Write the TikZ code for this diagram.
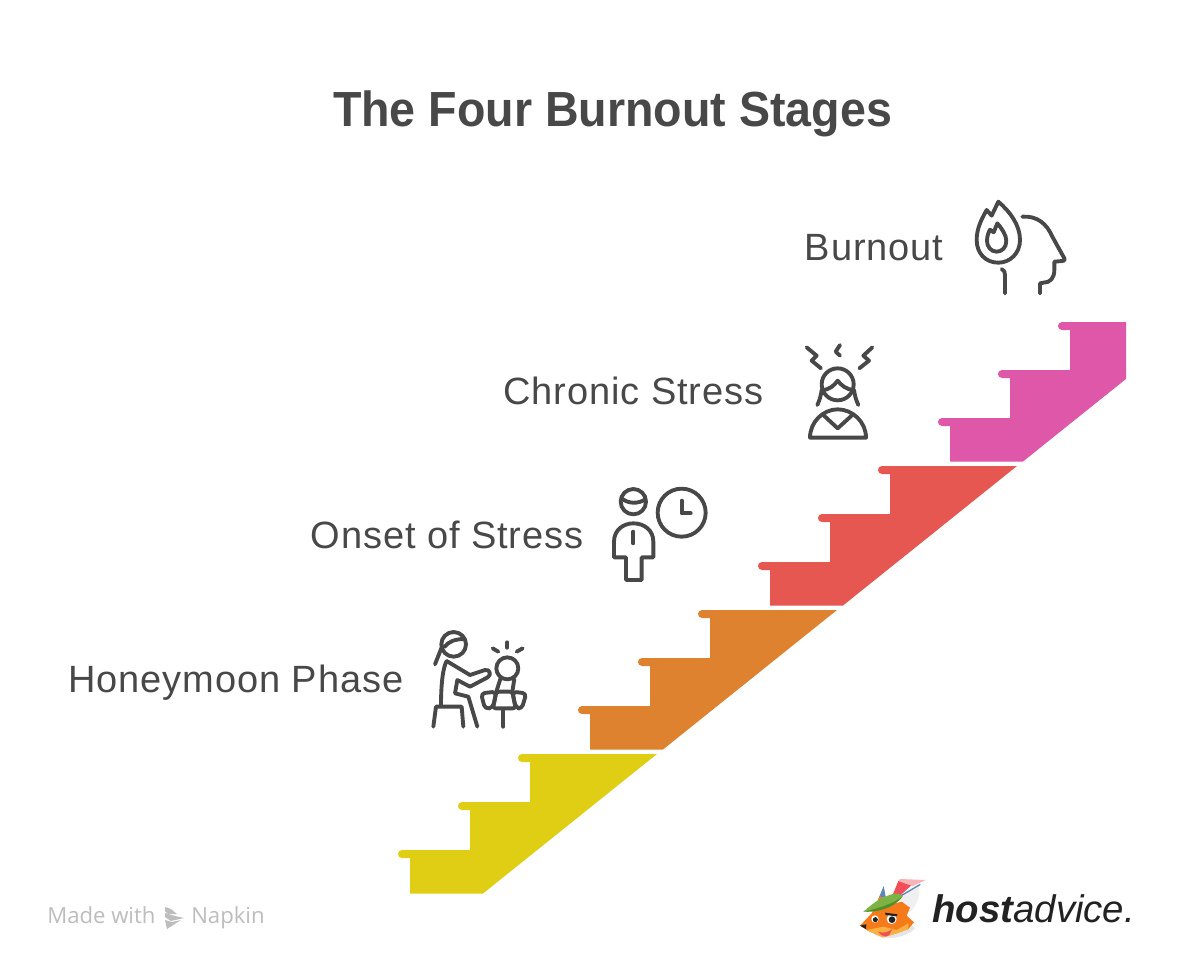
\documentclass[tikz,border=0pt]{standalone}
\usepackage{fontspec}
\setmainfont{Liberation Sans}
\newfontfamily\madefont{Open Sans}
\definecolor{ink}{HTML}{484848}
\definecolor{stairA}{HTML}{E0CE15}
\definecolor{stairB}{HTML}{DE8230}
\definecolor{stairC}{HTML}{E55750}
\definecolor{stairD}{HTML}{DE57A8}
\definecolor{madegray}{HTML}{BDBDBD}
\definecolor{foxorange}{HTML}{F47A1A}
\definecolor{foxlight}{HTML}{FBB040}
\definecolor{leafgreen}{HTML}{7CB342}
\definecolor{leafdark}{HTML}{4E8F2E}
\definecolor{featherred}{HTML}{EE4F58}
\definecolor{featherpink}{HTML}{F7B3B8}
\definecolor{featherblue}{HTML}{5C86B8}
\definecolor{logoink}{HTML}{222222}
\newcommand{\stairpath}{(410,893.5) -- (410,858) -- (402,858) .. controls (396.7,858) and (396.7,850) .. (402,850)
  -- (470,850) -- (470,810) -- (462,810) .. controls (456.7,810) and (456.7,802) .. (462,802)
  -- (530,802) -- (530,762) -- (522,762) .. controls (516.7,762) and (516.7,754) .. (522,754)
  -- (657,754) -- (483,893.5) -- cycle}
\tikzset{
  labeltext/.style={anchor=base east,text=ink,font=\fontsize{28.5}{32}\selectfont\addfontfeature{LetterSpace=2.3},inner sep=0pt},
  icon/.style={draw=ink,line width=2.9pt,line cap=round,line join=round,fill=none},
  iconbox/.style={scale=1/3,every path/.style={icon}},
}
\begin{document}
\begin{tikzpicture}[x=0.75pt,y=-0.75pt]
\useasboundingbox (0,0) rectangle (1186,972);
\fill[white] (0,0) rectangle (1186,972);
\node[anchor=base,text=ink,inner sep=0pt,font=\fontsize{37}{42}\selectfont\bfseries] (title) at (612.5,126) {\scalebox{0.944}[1]{The Four Burnout Stages}};
% stairs
\fill[stairA] \stairpath;
\fill[stairB,shift={(180,-144)}] \stairpath;
\fill[stairC,shift={(360,-288)}] \stairpath;
\begin{scope}
\clip (0,0) rectangle (1126,972);
\fill[stairD,shift={(540,-432)}] \stairpath;
\end{scope}
% labels
\node[labeltext] (burnout) at (943.5,260.5) {Burnout};
\node[labeltext] (chronic) at (763.5,404.5) {Chronic Stress};
\node[labeltext] (onset) at (583.5,548.5) {Onset of Stress};
\node[labeltext] (honey) at (403.5,692.5) {Honeymoon Phase};
% burnout icon
\begin{scope}[shift={(965,195)},iconbox]
\draw (100,20) .. controls (135,50) and (165,90) .. (165,135) .. controls (165,175) and (135,203) .. (100,203)
  .. controls (62,203) and (35,175) .. (35,135) .. controls (35,105) and (45,80) .. (65,45) -- (80,62) -- cycle;
\draw (97,85) .. controls (110,100) and (124,120) .. (124,138) .. controls (124,158) and (110,170) .. (95,170)
  .. controls (78,170) and (66,155) .. (66,138) .. controls (66,125) and (70,112) .. (75,104) -- (86,112) -- cycle;
\draw (172,65) .. controls (215,62) and (245,85) .. (262,125) -- (298,190) .. controls (300,196) and (298,198) .. (292,198) -- (268,200)
  -- (268,225) .. controls (268,250) and (255,263) .. (235,263) -- (225,265) -- (225,295);
\draw (110,222) .. controls (118,226) and (120,232) .. (120,240) -- (120,295);
\end{scope}
% chronic stress icon
\begin{scope}[shift={(795,340)},iconbox]
\draw (35,22) -- (65,47) -- (50,62) -- (78,85);
\draw (135,15) -- (122,35) -- (135,47);
\draw (232,22) -- (205,47) -- (222,62) -- (193,85);
\draw (128,133) circle[radius=48];
\draw (80,150) .. controls (105,150) and (118,135) .. (128,122) .. controls (138,135) and (155,150) .. (177,150);
\draw (80,150) .. controls (78,165) and (74,180) .. (67,195);
\draw (177,150) .. controls (179,165) and (183,180) .. (190,195);
\draw (45,293) .. controls (45,245) and (85,208) .. (128,208) .. controls (172,208) and (213,245) .. (213,293) -- cycle;
\draw (85,225) -- (128,265) -- (172,225);
\end{scope}
% onset icon
\begin{scope}[shift={(600,480)},iconbox]
\draw (100,65) circle[radius=38];
\draw (65,55) .. controls (85,72) and (115,72) .. (136,58);
\draw (245,98) circle[radius=72];
\draw (245,62) -- (245,100) -- (272,100);
\draw (78,232) -- (42,232) -- (42,185) .. controls (42,150) and (70,130) .. (100,130) .. controls (132,130) and (160,150) .. (160,185)
  -- (160,232) -- (125,232) -- (125,300) -- (78,300) -- cycle;
\draw (100,155) -- (100,190);
\end{scope}
% honeymoon icon
\begin{scope}[shift={(425,625)},iconbox]
\draw (86,58) circle[radius=37];
\draw (58,66) .. controls (70,50) and (90,42) .. (118,42);
\draw (52,62) -- (30,118);
\draw (65,108) .. controls (52,130) and (48,190) .. (48,240);
\draw (65,108) -- (135,150) -- (180,135) .. controls (195,132) and (200,150) .. (188,157) -- (135,185) -- (97,165) -- (90,205) -- (130,215) -- (157,305);
\draw (25,305) -- (33,245) -- (110,245) -- (115,305);
\draw (247,130) circle[radius=33];
\draw (203,70) -- (220,80);
\draw (247,52) -- (247,68);
\draw (293,70) -- (275,80);
\draw (226,162) -- (214,200);
\draw (268,162) -- (262,200);
\draw[rounded corners=3pt] (214,200) -- (168,205) -- (180,252) -- (204,248) -- cycle;
\draw[rounded corners=2pt] (214,200) -- (262,200) -- (272,250) -- (204,250) -- cycle;
\draw[rounded corners=3pt] (262,200) -- (304,205) -- (290,252) -- (272,248) -- cycle;
\draw (235,252) -- (235,305);
\end{scope}
% made with napkin
\node[anchor=base west,text=madegray,inner sep=0pt,font=\madefont\fontsize{16.6}{19}\selectfont] (made) at (47,923) {Made with};
\node[anchor=base west,text=madegray,inner sep=0pt,font=\madefont\fontsize{16.6}{19}\selectfont] (napkin) at (191,923) {Napkin};
\fill[madegray] (165,907) -- (171,909) -- (177,914) -- (168,914) -- (165,911) -- cycle;
\fill[madegray] (165,913) -- (175,916) -- (184,918) -- (171,921) -- (165,917) -- cycle;
\fill[madegray] (165,920) -- (172,922) -- (181,920) -- (167,929) -- cycle;
% logo fox
\begin{scope}[shift={(855,875)},scale=1/3]
\fill[black!10] (55,178) .. controls (90,198) and (150,190) .. (180,160) -- (160,140) -- cycle;
\fill[black!6] (135,65) -- (192,32) .. controls (195,60) and (190,85) .. (165,112) -- (145,100) -- cycle;
\fill[featherblue] (70,72) -- (86,33) -- (92,65) -- cycle;
\fill[foxorange] (15,152) -- (50,115) -- (75,62) -- (100,90) -- (140,80) -- (165,98) -- (155,122) -- (177,142) -- (160,162) -- (125,175) -- (85,187) -- (40,168) -- cycle;
\fill[foxlight] (35,165) -- (85,155) -- (125,165) -- (160,145) -- (160,162) -- (125,175) -- (85,187) -- cycle;
\fill[featherpink] (130,18) -- (135,12) -- (212,15) -- (172,34) -- cycle;
\fill[featherred] (112,62) -- (130,18) -- (168,32) -- (135,62) -- cycle;
\draw[featherblue,line width=1pt] (135,64) -- (196,28);
\fill[leafdark] (25,110) .. controls (60,112) and (110,105) .. (143,65) -- (100,72) -- cycle;
\fill[leafgreen] (25,110) .. controls (50,90) and (70,68) .. (118,56) .. controls (130,54) and (140,60) .. (143,65) .. controls (115,85) and (70,100) .. (25,110) -- cycle;
\fill[white] (60,132) circle[radius=11];
\fill[white] (110,132) circle[radius=15];
\fill[logoink] (61,134) circle[radius=7.5];
\fill[logoink] (111,134) circle[radius=10];
\fill[logoink] (15,152) -- (34,148) -- (33,162) -- cycle;
\fill[logoink] (90,113) -- (128,118) -- (124,124) -- (92,120) -- cycle;
\fill[featherred] (70,170) .. controls (85,176) and (100,172) .. (112,162) -- (104,178) .. controls (97,186) and (82,188) .. (70,170) -- cycle;
\end{scope}
\node[anchor=base west,inner sep=0pt,text=logoink,font=\fontsize{28.8}{32}\selectfont\itshape] (logo) at (932,922) {\textbf{host}advice.};
\end{tikzpicture}
\end{document}
